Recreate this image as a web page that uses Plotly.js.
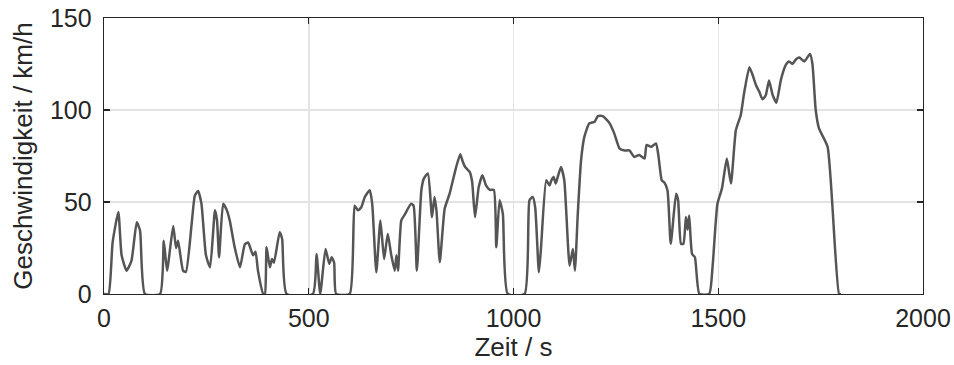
<!DOCTYPE html>
<html>
<head>
<meta charset="utf-8">
<script src="https://cdn.plot.ly/plotly-3.0.1.min.js"></script>
<style>html,body{margin:0;padding:0;background:#fff;}#chart{width:954px;height:365px;}</style>
</head>
<body>
<div id="chart"></div>
<script>
// Zeit in s
var zeit = [
  0, 11, 21, 35, 43, 55, 67, 80, 88, 100,
  137, 146, 154, 169, 176, 181, 193, 200, 214, 222, 230, 238, 249, 259, 271, 276, 281, 291, 299, 307, 319, 332, 344, 352, 364, 370, 376, 389,
  393, 397, 405, 410, 415, 429, 435, 446,
  510, 519, 528, 541, 550, 556, 562, 567,
  600, 612, 620, 628, 637, 649, 655, 665, 675, 684, 693, 701, 710, 714, 718, 726, 734, 750, 756, 764, 775, 781, 791, 801, 807, 812, 820, 832, 844, 852, 860, 870, 876, 882, 893, 899, 906, 915, 924, 933, 942, 952, 958, 966, 974, 986,
  1027, 1039, 1047, 1053, 1062, 1067, 1080, 1088, 1093, 1098, 1103, 1108, 1116, 1124, 1137, 1145, 1150, 1157, 1165, 1173, 1185, 1198, 1206, 1218, 1234, 1246, 1259, 1271, 1283, 1295, 1307, 1320, 1325, 1336, 1348, 1354, 1362, 1368, 1376, 1384, 1397, 1402, 1409, 1415, 1421, 1425, 1429, 1436, 1443, 1454,
  1478, 1486, 1498, 1509, 1521, 1531, 1543, 1555, 1563, 1576, 1584, 1592, 1600, 1608, 1616, 1624, 1633, 1642, 1653, 1665, 1673, 1681, 1690, 1698, 1710, 1724, 1730, 1738, 1746, 1767, 1795, 1800
];
// Geschwindigkeit in km/h
var geschwindigkeit = [
  0, 0, 28, 44.5, 21, 12.7, 18, 39, 34.5, 0,
  0, 29, 12.7, 37, 25, 29, 12.7, 12, 38, 53.6, 56, 49, 21, 14.5, 45.5, 40, 20, 49, 46, 40, 25.5, 14.5, 27, 28, 21, 23, 12.7, 0,
  0, 25.5, 14.5, 19, 17, 33.6, 30, 0,
  0, 21.8, 0, 24.5, 16.4, 20, 17, 0,
  0, 48, 45.5, 47, 52.7, 56.4, 49, 11.8, 40, 19, 32.7, 21.8, 12.7, 21, 12.7, 40, 43, 49, 48, 12.7, 56.4, 62.7, 65.5, 41.8, 52.7, 45, 17.3, 46.4, 54.5, 61.8, 69, 76, 72, 69, 66.4, 61, 41.8, 58, 64.5, 59, 56.6, 56.6, 25.4, 51, 43.6, 0,
  0, 51, 52.7, 47, 11.8, 24.5, 61.8, 59, 62, 63.6, 60, 63.6, 69, 61.8, 15.4, 24.5, 12.7, 43.6, 72.7, 85.4, 92.7, 93.6, 96.7, 96.7, 93, 87.3, 79, 78, 78, 74.5, 75.5, 73.6, 81, 80, 81.8, 75, 61.8, 60.7, 56.4, 27.3, 54.5, 51, 27.3, 27.3, 41.8, 35, 42.7, 21.8, 20, 0,
  0, 14.5, 49, 57.3, 73.6, 60, 89, 97.3, 109, 123.3, 119, 113.6, 110, 105.8, 108, 116, 108, 104, 116.4, 124.5, 126.4, 125, 127.6, 128.5, 126.4, 130.5, 125, 100, 90, 80, 0, 0
];

var xTicks = [0, 500, 1000, 1500, 2000];
var yTicks = [0, 50, 100, 150];

var trace = {
  x: zeit,
  y: geschwindigkeit,
  type: 'scatter',
  mode: 'lines',
  line: {color: '#555555', width: 2.5, shape: 'spline', smoothing: 0.5},
  hoverinfo: 'skip'
};

var tickFont = {family: 'Liberation Sans, Arial, sans-serif', size: 25, color: '#262626'};
var titleFont = {family: 'Liberation Sans, Arial, sans-serif', size: 26, color: '#262626'};

var layout = {
  width: 954,
  height: 365,
  margin: {l: 104, r: 31, t: 18, b: 71, pad: 0},
  paper_bgcolor: '#ffffff',
  plot_bgcolor: '#ffffff',
  showlegend: false,
  xaxis: {
    range: [0, 2000],
    tickvals: xTicks,
    ticktext: xTicks.map(String),
    ticks: 'inside',
    ticklen: 6,
    tickwidth: 1.3,
    tickcolor: '#262626',
    showline: true,
    linecolor: '#262626',
    linewidth: 1.3,
    mirror: 'ticks',
    showgrid: true,
    gridcolor: '#e3e3e3',
    gridwidth: 1.5,
    zeroline: false,
    tickfont: tickFont,
    ticklabelstandoff: 2,
    title: {text: 'Zeit / s', font: titleFont, standoff: 6}
  },
  yaxis: {
    range: [0, 150],
    tickvals: yTicks,
    ticktext: yTicks.map(String),
    ticks: 'inside',
    ticklen: 6,
    tickwidth: 1.3,
    tickcolor: '#262626',
    showline: true,
    linecolor: '#262626',
    linewidth: 1.3,
    mirror: 'ticks',
    showgrid: true,
    gridcolor: '#e3e3e3',
    gridwidth: 1.5,
    zeroline: false,
    tickfont: tickFont,
    ticklabelstandoff: 6,
    title: {text: 'Geschwindigkeit / km/h', font: titleFont, standoff: 10}
  }
};

Plotly.newPlot('chart', [trace], layout, {displayModeBar: false, staticPlot: true});
</script>
</body>
</html>
